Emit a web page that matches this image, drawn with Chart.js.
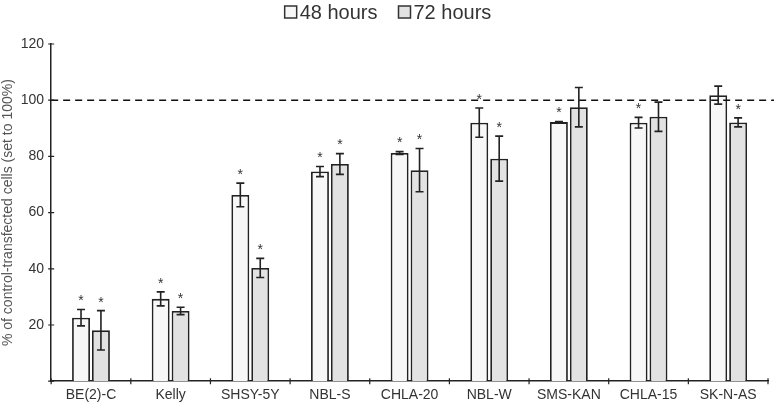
<!DOCTYPE html>
<html>
<head>
<meta charset="utf-8">
<script src="https://cdn.jsdelivr.net/npm/chart.js"></script>
<style>
  html, body { margin: 0; padding: 0; background: #fff; }
  #wrap { width: 776px; height: 408px; position: relative; }
</style>
</head>
<body>
<div id="wrap"><canvas id="c" width="776" height="408"></canvas></div>
<script>
const cellLines = ["BE(2)-C", "Kelly", "SHSY-5Y", "NBL-S", "CHLA-20", "NBL-W", "SMS-KAN", "CHLA-15", "SK-N-AS"];
const h48 = [22.6, 29.3, 66.3, 74.6, 81.2, 92.0, 92.2, 92.0, 101.8];
const h48err = [2.9, 2.5, 4.2, 1.8, 0.5, 5.2, 0.2, 1.9, 3.2];
const h72 = [18.1, 25.0, 40.3, 77.3, 75.1, 79.2, 97.5, 94.1, 92.1];
const h72err = [7.0, 1.3, 3.4, 3.7, 7.7, 8.0, 7.0, 5.2, 1.6];
const h48star = [true, true, true, true, true, true, true, true, false];
const h72star = [true, true, true, true, true, true, false, false, true];
const yTicks = [20, 40, 60, 80, 100, 120];
const refLine = 100;

const FONT = "'Liberation Sans', Arial, sans-serif";
const errs = [h48err, h72err];
const stars = [h48star, h72star];

// legend, error bars, stars and the dashed 100% line
const extras = {
  id: "extras",
  afterDatasetsDraw(chart) {
    const ctx = chart.ctx;
    const y = chart.scales.y;
    const area = chart.chartArea;
    ctx.save();
    chart.data.datasets.forEach((ds, di) => {
      const meta = chart.getDatasetMeta(di);
      meta.data.forEach((bar, i) => {
        const v = ds.data[i];
        const e = errs[di][i];
        const yt = y.getPixelForValue(v + e);
        const yb = y.getPixelForValue(v - e);
        ctx.strokeStyle = "#222";
        ctx.lineWidth = 1.6;
        ctx.beginPath();
        ctx.moveTo(bar.x, yt); ctx.lineTo(bar.x, yb);
        ctx.moveTo(bar.x - 4, yt); ctx.lineTo(bar.x + 4, yt);
        ctx.moveTo(bar.x - 4, yb); ctx.lineTo(bar.x + 4, yb);
        ctx.stroke();
        if (stars[di][i]) {
          ctx.fillStyle = "#333";
          ctx.font = "14px " + FONT;
          ctx.textAlign = "center";
          ctx.textBaseline = "middle";
          ctx.fillText("*", bar.x, Math.min(yt, y.getPixelForValue(v)) - 8);
        }
      });
    });
    const yr = y.getPixelForValue(refLine);
    ctx.strokeStyle = "#111";
    ctx.lineWidth = 1.5;
    ctx.setLineDash([7, 5]);
    ctx.beginPath();
    ctx.moveTo(area.left, yr);
    ctx.lineTo(area.right + 6, yr);
    ctx.stroke();
    ctx.setLineDash([]);

    // legend
    ctx.font = "20px " + FONT;
    ctx.textAlign = "left";
    ctx.textBaseline = "alphabetic";
    const box = 12, gapBox = 3, gapItem = 21;
    const items = chart.data.datasets.map(d => ({ d, w: box + gapBox + ctx.measureText(d.label).width }));
    const total = items.reduce((s, it) => s + it.w, 0) + gapItem * (items.length - 1);
    let x = chart.width / 2 - total / 2;
    items.forEach(it => {
      ctx.fillStyle = it.d.backgroundColor;
      ctx.fillRect(x, 6, box, box);
      ctx.strokeStyle = "#333";
      ctx.lineWidth = 1.5;
      ctx.strokeRect(x, 6, box, box);
      ctx.fillStyle = "#333";
      ctx.fillText(it.d.label, x + box + gapBox, 19);
      x += it.w + gapItem;
    });
    ctx.restore();
  }
};

// tick marks crossing the axes
const crossTicks = {
  id: "crossTicks",
  afterDraw(chart) {
    const ctx = chart.ctx;
    const { x, y } = chart.scales;
    ctx.save();
    ctx.strokeStyle = "#222";
    ctx.lineWidth = 1.2;
    ctx.beginPath();
    y.ticks.forEach(t => {
      const py = y.getPixelForValue(t.value);
      ctx.moveTo(y.right - 3, py); ctx.lineTo(y.right + 3, py);
    });
    const n = x.ticks.length;
    for (let i = 0; i <= n; i++) {
      const px = x.left + (x.right - x.left) * i / n;
      ctx.moveTo(px, x.top - 3); ctx.lineTo(px, x.top + 3);
    }
    ctx.stroke();
    ctx.restore();
  }
};

new Chart(document.getElementById("c"), {
  type: "bar",
  data: {
    labels: cellLines,
    datasets: [
      { label: "48 hours", data: h48, backgroundColor: "#f7f7f7", borderColor: "#222", borderWidth: 1.8 },
      { label: "72 hours", data: h72, backgroundColor: "#e2e2e2", borderColor: "#222", borderWidth: 1.8 }
    ]
  },
  options: {
    responsive: false,
    animation: false,
    categoryPercentage: 0.5,
    barPercentage: 0.9,
    layout: { padding: { left: 0, right: 8, top: 44, bottom: 1 } },
    plugins: {
      legend: { display: false },
      tooltip: { enabled: false }
    },
    scales: {
      x: {
        offset: true,
        grid: { display: false, offset: true, drawOnChartArea: false, tickLength: 3 },
        border: { color: "#222", width: 1.5 },
        ticks: { color: "#333", padding: 3, font: { size: 14, family: FONT } }
      },
      y: {
        min: 0, max: 120,
        afterBuildTicks(s) { s.ticks = [0].concat(yTicks).map(v => ({ value: v })); },
        grid: { display: false, drawOnChartArea: false, tickLength: 3 },
        border: { color: "#222", width: 1.5 },
        ticks: {
          color: "#333", padding: 4,
          font: { size: 14, family: FONT },
          callback: v => (v === 0 ? "" : v)
        },
        title: {
          display: true, text: "% of control-transfected cells (set to 100%)",
          color: "#555", padding: { top: 0, bottom: 0 },
          font: { size: 14, family: FONT }
        }
      }
    }
  },
  plugins: [extras, crossTicks]
});
</script>
</body>
</html>
